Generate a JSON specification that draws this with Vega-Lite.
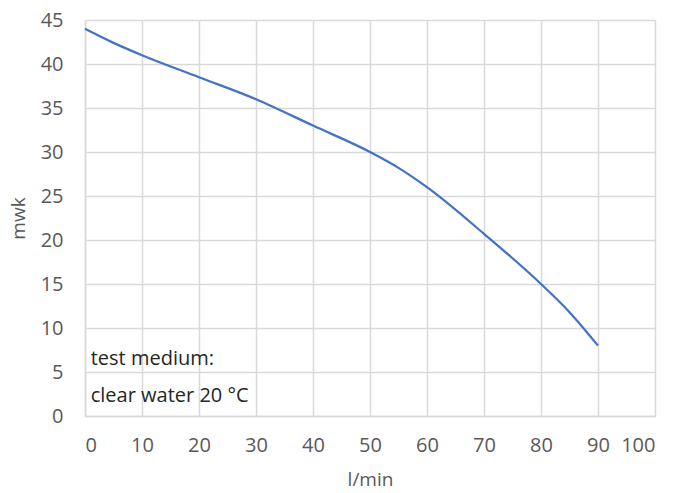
{
  "$schema": "https://vega.github.io/schema/vega-lite/v6.json",
  "width": 570,
  "height": 396,
  "autosize": "none",
  "padding": {"left": 85, "top": 20, "right": 19, "bottom": 77},
  "background": "white",
  "config": {
    "view": {"stroke": null},
    "font": "Open Sans",
    "axis": {
      "labelFont": "Open Sans",
      "titleFont": "Open Sans",
      "labelFontSize": 20,
      "titleFontSize": 19,
      "labelColor": "#595959",
      "titleColor": "#595959",
      "titleFontWeight": "normal",
      "gridColor": "#d9d9d9",
      "gridWidth": 1.5,
      "domainColor": "#d9d9d9",
      "domainWidth": 1.5,
      "ticks": false
    }
  },
  "datasets": {
    "curve": [
      {"flow": 0, "head": 44},
      {"flow": 5, "head": 42.4},
      {"flow": 10, "head": 41},
      {"flow": 20, "head": 38.5},
      {"flow": 30, "head": 36},
      {"flow": 40, "head": 33},
      {"flow": 50, "head": 30},
      {"flow": 55, "head": 28.2},
      {"flow": 60, "head": 26},
      {"flow": 70, "head": 20.7},
      {"flow": 80, "head": 15},
      {"flow": 85, "head": 11.8},
      {"flow": 90, "head": 8}
    ],
    "notes": [
      {"flow": 1, "head": 6.5, "text": "test medium:"},
      {"flow": 1, "head": 2.3, "text": "clear water 20 °C"}
    ]
  },
  "layer": [
    {
      "data": {"name": "curve"},
      "mark": {"type": "line", "color": "#4472C4", "strokeWidth": 2.25, "interpolate": "monotone"},
      "encoding": {
        "x": {"field": "flow", "type": "quantitative", "title": "l/min",
              "scale": {"domain": [0, 100], "nice": false},
              "axis": {"values": [0,10,20,30,40,50,60,70,80,90,100], "labelPadding": 19, "titlePadding": 15}},
        "y": {"field": "head", "type": "quantitative", "title": "mwk",
              "scale": {"domain": [0, 45], "nice": false},
              "axis": {"values": [0,5,10,15,20,25,30,35,40,45], "labelPadding": 22, "titlePadding": 12}}
      }
    },
    {
      "data": {"name": "notes"},
      "mark": {"type": "text", "align": "left", "baseline": "middle", "fontSize": 20, "color": "#262626", "font": "Open Sans"},
      "encoding": {
        "x": {"field": "flow", "type": "quantitative"},
        "y": {"field": "head", "type": "quantitative"},
        "text": {"field": "text"}
      }
    }
  ]
}
